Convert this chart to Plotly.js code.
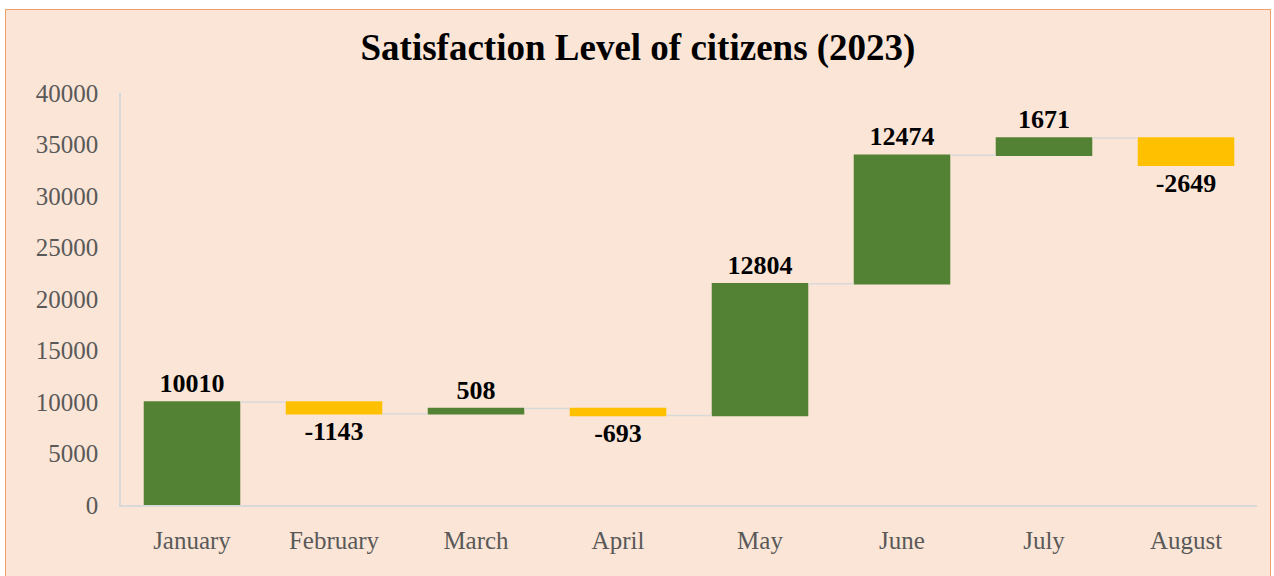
<!DOCTYPE html>
<html>
<head>
<meta charset="utf-8">
<script src="https://cdn.plot.ly/plotly-3.0.1.min.js"></script>
<style>
  body { margin: 0; background: #ffffff; }
  #frame {
    position: absolute; left: 5px; top: 9px;
    width: 1264px; height: 570px;
    background: #FBE5D6; border: 1.5px solid #F0A06A;
  }
</style>
</head>
<body>
<div id="frame"><div id="viz"></div></div>
<script>
const months = ['January', 'February', 'March', 'April', 'May', 'June', 'July', 'August'];
const changes = [10010, -1143, 508, -693, 12804, 12474, 1671, -2649];
const yTicks = [0, 5000, 10000, 15000, 20000, 25000, 30000, 35000, 40000];

const serif = 'Liberation Serif, Times New Roman, serif';

const data = [{
  type: 'waterfall',
  x: months,
  y: changes,
  measure: months.map(() => 'relative'),
  text: changes.map(String),
  textposition: 'outside',
  textfont: { family: serif, size: 26, color: '#000000', weight: 'bold' },
  cliponaxis: false,
  width: 0.68,
  increasing: { marker: { color: '#548235' } },
  decreasing: { marker: { color: '#FFC000' } },
  connector: { line: { color: '#D9D9D9', width: 1.5 } },
  hoverinfo: 'x+y'
}];

const layout = {
  width: 1264,
  height: 570,
  paper_bgcolor: '#FBE5D6',
  plot_bgcolor: '#FBE5D6',
  margin: { l: 115, r: 13, t: 83, b: 75 },
  showlegend: false,
  title: {
    text: '<b>Satisfaction Level of citizens (2023)</b>',
    font: { family: serif, size: 37, color: '#000000' },
    x: 0.5, xanchor: 'center', y: 0.935, yanchor: 'middle'
  },
  xaxis: {
    type: 'category',
    showline: true, linecolor: '#D9D9D9', linewidth: 1.5,
    showgrid: false, ticks: '',
    tickfont: { family: serif, size: 25, color: '#595959' },
    ticklabelstandoff: 12
  },
  yaxis: {
    range: [0, 40000],
    tickvals: yTicks,
    ticktext: yTicks.map(String),
    showline: true, linecolor: '#D9D9D9', linewidth: 1.5,
    showgrid: false, zeroline: false, ticks: '',
    tickfont: { family: serif, size: 25, color: '#595959' },
    ticklabelstandoff: 16
  }
};

Plotly.newPlot('viz', data, layout, { displayModeBar: false });
</script>
</body>
</html>
